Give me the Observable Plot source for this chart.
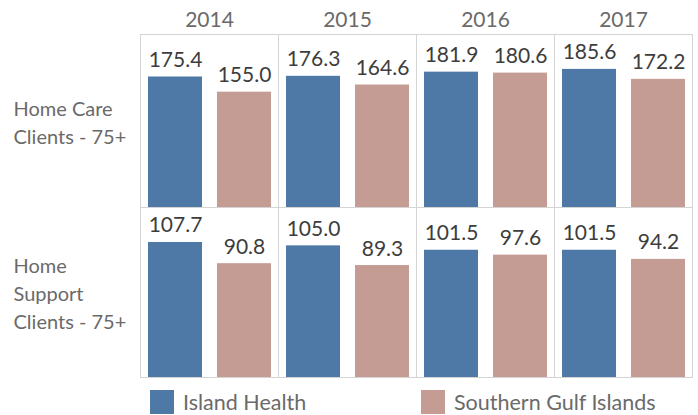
<!DOCTYPE html>
<html><head><meta charset="utf-8">
<script src="https://cdn.jsdelivr.net/npm/d3@7"></script>
<script src="https://cdn.jsdelivr.net/npm/@observablehq/plot@0.6"></script>
<style>
body{margin:0;background:#fff;font-family:Lato,"Noto Sans",sans-serif}
#chart{position:relative;width:698px;height:415px;overflow:hidden}
#chart svg{display:block}
.item{position:absolute;top:390px;height:24px;display:flex;align-items:center;font-size:21.5px;color:#6a6a6a;white-space:nowrap}
.sw{width:24px;height:24px;margin-right:9px}
</style></head><body><div id="chart"></div><script>
const years = ["2014", "2015", "2016", "2017"];
const regions = ["Island Health", "Southern Gulf Islands"];
const colors = ["#4e79a7", "#c49c94"];
const rowLabels = ["Home Care\nClients - 75+", "Home\nSupport\nClients - 75+"];
// values per region, by year
const homeCareIH = [175.4, 176.3, 181.9, 185.6];
const homeCareSGI = [155.0, 164.6, 180.6, 172.2];
const homeSupportIH = [107.7, 105.0, 101.5, 101.5];
const homeSupportSGI = [90.8, 89.3, 97.6, 94.2];

function table(ih, sgi) {
  return years.flatMap((y, i) => [
    {year: y, region: regions[0], value: ih[i]},
    {year: y, region: regions[1], value: sgi[i]}
  ]);
}

function row(data, label, yMax, top) {
  const marks = [
    Plot.frame({stroke: "#d4d4d4"}),
    Plot.barY(data, {fx: "year", x: "region", y: "value", fill: "region"}),
    Plot.text(data, {fx: "year", x: "region", y: "value", text: d => d.value.toFixed(1),
      lineAnchor: "bottom", dy: -10, fill: "#3d3d3d", fontSize: 21}),
    Plot.text([{year: years[0]}], {fx: "year", frameAnchor: "left", dx: -127, textAnchor: "start",
      text: () => label, lineHeight: 1.4, fill: "#6a6a6a", fontSize: 20})
  ];
  if (top) marks.push(Plot.axisFx({anchor: "top", tickSize: 0, tickPadding: 8, label: null, fill: "#6a6a6a", fontSize: 21}));
  return Plot.plot({
    width: 698,
    height: top ? 208 : 172,
    marginLeft: 138, marginRight: 5,
    marginTop: top ? 34 : 1, marginBottom: 1,
    style: {fontFamily: "Lato, 'Noto Sans', sans-serif", fontSize: "21px", background: "transparent", overflow: "visible"},
    fx: {domain: years, padding: 0, axis: null, label: null},
    x: {domain: regions, axis: null, paddingInner: 0.214, paddingOuter: 0.1, align: 0.55},
    y: {domain: [0, yMax], axis: null},
    color: {domain: regions, range: colors},
    marks
  });
}

const chart = document.getElementById("chart");
const p1 = row(table(homeCareIH, homeCareSGI), rowLabels[0], 232.5, true);
const p2 = row(table(homeSupportIH, homeSupportSGI), rowLabels[1], 135.6, false);
p2.style.marginTop = "-2px";
chart.appendChild(p1);
chart.appendChild(p2);

const legendLeft = [150, 421];
regions.forEach((r, i) => {
  const it = document.createElement("div");
  it.className = "item";
  it.style.left = legendLeft[i] + "px";
  const sw = document.createElement("div");
  sw.className = "sw";
  sw.style.background = colors[i];
  const tx = document.createElement("span");
  tx.textContent = r;
  it.appendChild(sw);
  it.appendChild(tx);
  chart.appendChild(it);
});
</script></body></html>
